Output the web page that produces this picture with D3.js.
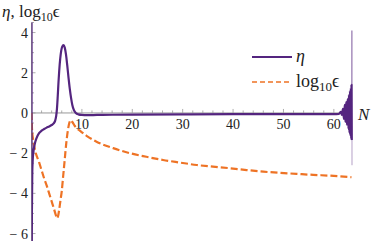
<!DOCTYPE html>
<html><head><meta charset="utf-8">
<script src="https://cdn.jsdelivr.net/npm/d3@7"></script>
<style>
html,body{margin:0;padding:0;background:#fff;}
svg{display:block;}
</style></head><body>
<script>
// ---- data ----
const etaN = [0,0.02,0.08,0.15,0.25,0.4,0.6,1,1.5,2,2.5,3,3.5,4,4.4,4.7,4.9,5.05,5.2,5.35,5.5,5.7,5.9,6.1,6.35,6.6,6.85,7.1,7.35,7.6,7.85,8.1,8.4,8.8,9.3,10,11,13,16,20,30,40,50,60,61,
  61.4,61.6,61.8,62,62.15,62.3,62.45,62.6,62.75,62.9,63.0,63.1,63.2,63.3,63.38,63.45,63.5,63.55];
const etaV = [12,-12,-5,-3,-2.3,-1.9,-1.6,-1.25,-1.0,-0.88,-0.8,-0.73,-0.67,-0.6,-0.52,-0.38,-0.15,0.2,0.8,1.5,2.1,2.7,3.1,3.3,3.37,3.25,2.9,2.35,1.75,1.2,0.75,0.4,0.15,0,-0.07,-0.1,-0.11,-0.1,-0.09,-0.08,-0.07,-0.06,-0.06,-0.06,-0.05,
  0.05,-0.1,0.2,-0.3,0.4,-0.45,0.55,-0.6,0.7,-0.8,0.9,-1.0,1.1,-1.15,1.25,-1.3,1.4,-1.35];
const etaTailN = [63.55,63.58,63.6];
const etaTailV = [-1.35,4.1,-2.6];
const epsN = [0,0.1,0.3,0.7,1.5,2,2.5,3,3.5,4,4.5,4.85,5.06,5.3,5.5,5.75,6,6.3,6.6,6.9,7.2,7.5,7.8,8.1,8.6,9.6,11,12.9,16.2,19.5,22.8,26.1,29.5,32.8,36,39.4,42.7,46,49.3,52.6,55.9,59.2,63.5];
const epsV = [0,-0.8,-1.3,-1.85,-2.45,-2.85,-3.25,-3.6,-4.0,-4.4,-4.8,-5.1,-5.24,-5.1,-4.8,-4.35,-3.9,-3.1,-2.3,-1.5,-0.9,-0.5,-0.36,-0.45,-0.65,-0.88,-1.15,-1.43,-1.75,-2.0,-2.18,-2.34,-2.47,-2.59,-2.67,-2.75,-2.84,-2.92,-2.98,-3.03,-3.08,-3.12,-3.2];
const xTicks = [10,20,30,40,50,60];
const yTicks = [-6,-4,-2,0,2,4];
const yTickLabels = ["\u2212 6","\u2212 4","\u2212 2","0","2","4"];
const seriesNames = ["\u03b7","log10\u03f5"];

// ---- chart ----
const W=374,H=241;
const FONT="'Liberation Serif','DejaVu Serif','Times New Roman',serif";
const purple="#54257f", orange="#ee7325", axisCol="#999";
const x=d3.scaleLinear().domain([0,63.6]).range([31.5,352]);
const y=d3.scaleLinear().domain([-6.4,4.5]).range([241.6,22.5]);
const svg=d3.select("body").append("svg").attr("width",W).attr("height",H)
  .attr("font-family",FONT).style("font-family",FONT);
svg.append("defs").append("clipPath").attr("id","clip").append("rect")
  .attr("x",x(0)).attr("y",y(4.5)).attr("width",x(63.6)-x(0)+2).attr("height",y(-6.4)-y(4.5));

function txt(g){ return g.append("text").attr("font-family",FONT).style("font-family",FONT).attr("fill","#222"); }

// axes
const gx=svg.append("g");
gx.append("line").attr("x1",x(0)).attr("x2",x(63.6)).attr("y1",y(0)).attr("y2",y(0)).attr("stroke",axisCol).attr("stroke-width",1);
d3.range(2,64,2).forEach(t=>{
  const major=t%10===0;
  gx.append("line").attr("x1",x(t)).attr("x2",x(t)).attr("y1",y(0)).attr("y2",y(0)-(major?4:2.5)).attr("stroke",axisCol).attr("stroke-width",0.8);
});
xTicks.forEach(t=>{
  txt(gx).attr("x",x(t)).attr("y",y(0)+16).attr("text-anchor","middle").attr("font-size",14).text(t);
});
const gy=svg.append("g");
gy.append("line").attr("x1",x(0)).attr("x2",x(0)).attr("y1",y(4.5)).attr("y2",y(-6.4)).attr("stroke",axisCol).attr("stroke-width",1);
d3.range(-6,4.51,0.5).forEach(t=>{
  const major=Math.abs(t%2)<1e-9;
  gy.append("line").attr("x1",x(0)).attr("x2",x(0)+(major?4:2.5)).attr("y1",y(t)).attr("y2",y(t)).attr("stroke",axisCol).attr("stroke-width",0.8);
});
yTicks.forEach((t,i)=>{
  txt(gy).attr("x",28).attr("y",y(t)+5).attr("text-anchor","end").attr("font-size",14).text(yTickLabels[i]);
});

// lines
const line=d3.line().x(d=>x(d[0])).y(d=>y(d[1])).curve(d3.curveMonotoneX);
const plot=svg.append("g").attr("clip-path","url(#clip)");
const epsData=epsN.map((n,i)=>[n,epsV[i]]);
const etaData=etaN.map((n,i)=>[n,etaV[i]]);
const tailData=etaTailN.map((n,i)=>[n,etaTailV[i]]);
plot.append("path").attr("d",line(epsData)).attr("fill","none").attr("stroke",orange).attr("stroke-width",2.2).attr("stroke-dasharray","7,3");
plot.append("path").attr("d",line(etaData)).attr("fill","none").attr("stroke",purple).attr("stroke-width",2.2).attr("stroke-linejoin","round");
plot.append("path").attr("d",d3.line().x(d=>x(d[0])).y(d=>y(d[1]))(tailData)).attr("fill","none").attr("stroke",purple).attr("stroke-width",0.8).attr("stroke-opacity",0.55);

// axis labels
const t1=txt(svg).attr("x",2).attr("y",17).attr("font-size",17);
t1.append("tspan").attr("font-style","italic").text("\u03b7");
t1.append("tspan").text(", log");
t1.append("tspan").attr("font-size",12).attr("dy",4).text("10");
t1.append("tspan").attr("dy",-4).text("\u03f5");
txt(svg).attr("x",358).attr("y",120).attr("font-size",17).attr("font-style","italic").text("N");

// legend
const lg=svg.append("g");
lg.append("line").attr("x1",252).attr("x2",292).attr("y1",57).attr("y2",57).attr("stroke",purple).attr("stroke-width",2);
txt(lg).attr("x",296).attr("y",62).attr("font-size",18).attr("font-style","italic").text(seriesNames[0]);
lg.append("line").attr("x1",252).attr("x2",292).attr("y1",82).attr("y2",82).attr("stroke",orange).attr("stroke-width",1.6).attr("stroke-dasharray","5,3");
const t2=txt(lg).attr("x",296).attr("y",87).attr("font-size",18);
t2.append("tspan").text("log");
t2.append("tspan").attr("font-size",13).attr("dy",4).text("10");
t2.append("tspan").attr("dy",-4).text("\u03f5");
</script>
</body></html>
